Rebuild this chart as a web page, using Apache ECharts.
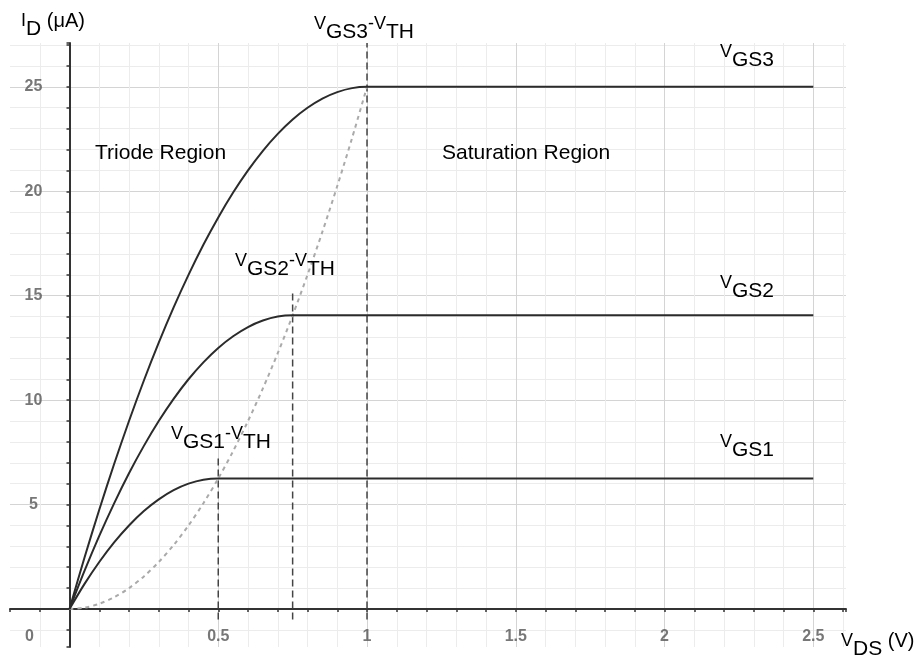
<!DOCTYPE html>
<html>
<head>
<meta charset="utf-8">
<script src="https://cdn.jsdelivr.net/npm/echarts@6/dist/echarts.min.js"></script>
<style>
  html, body { margin: 0; padding: 0; background: #fff; }
  #chart { width: 924px; height: 665px; }
</style>
</head>
<body>
<div id="chart"></div>
<script>
// ---- Data (V_DS in V, I_D in µA) ----
const vgs3X = [0, 0.05, 0.1, 0.15, 0.2, 0.25, 0.3, 0.35, 0.4, 0.45, 0.5, 0.55, 0.6, 0.65, 0.7, 0.75, 0.8, 0.85, 0.9, 0.95, 1.0, 2.5];
const vgs3Y = [0, 2.44, 4.75, 6.94, 9, 10.94, 12.75, 14.44, 16, 17.44, 18.75, 19.94, 21, 21.94, 22.75, 23.44, 24, 24.44, 24.75, 24.94, 25, 25];

const vgs2X = [0, 0.05, 0.1, 0.15, 0.2, 0.25, 0.3, 0.35, 0.4, 0.45, 0.5, 0.55, 0.6, 0.65, 0.7, 0.75, 2.5];
const vgs2Y = [0, 1.81, 3.5, 5.06, 6.5, 7.81, 9, 10.06, 11, 11.81, 12.5, 13.06, 13.5, 13.81, 14, 14.06, 14.06];

const vgs1X = [0, 0.05, 0.1, 0.15, 0.2, 0.25, 0.3, 0.35, 0.4, 0.45, 0.5, 2.5];
const vgs1Y = [0, 1.19, 2.25, 3.19, 4, 4.69, 5.25, 5.69, 6, 6.19, 6.25, 6.25];

// boundary between triode and saturation (dotted parabola)
const edgeX = [0, 0.05, 0.1, 0.15, 0.2, 0.25, 0.3, 0.35, 0.4, 0.45, 0.5, 0.55, 0.6, 0.65, 0.7, 0.75, 0.8, 0.85, 0.9, 0.95, 1.0];
const edgeY = [0, 0.06, 0.25, 0.56, 1, 1.56, 2.25, 3.06, 4, 5.06, 6.25, 7.56, 9, 10.56, 12.25, 14.06, 16, 18.06, 20.25, 22.56, 25];

// vertical dashed markers at V_GS - V_TH
const overdriveX = [0.5, 0.75, 1.0];
const overdriveTop = [7.3, 15.2, 27.1];
const overdriveBottom = [-0.5, -0.5, -0.5];

// axis extents and tick labels
const xMin = -0.2, xMax = 2.61;
const yMin = -1.82, yMax = 27.1;
const xTickValues = [0.5, 1, 1.5, 2, 2.5];
const xTickLabels = ['0.5', '1', '1.5', '2', '2.5'];
const yTickValues = [5, 10, 15, 20, 25];
const yTickLabels = ['5', '10', '15', '20', '25'];
const originLabel = '0';

const zip = (xs, ys) => xs.map((x, i) => [x, ys[i]]);

const chart = echarts.init(document.getElementById('chart'), null, { renderer: 'canvas' });

const FONT = 'Liberation Sans, Arial, Helvetica, sans-serif';
const curveStyle = { color: '#2b2b2b', width: 2 };
const dashStyle = { color: '#444', width: 1.5, type: [7, 4] };
const tickLabelStyle = { show: true, position: 'inside', color: '#555', fontSize: 16, fontWeight: 'bold',
  fontFamily: FONT, align: 'center', verticalAlign: 'middle' };

const series = [
  { name: 'VGS3', data: zip(vgs3X, vgs3Y) },
  { name: 'VGS2', data: zip(vgs2X, vgs2Y) },
  { name: 'VGS1', data: zip(vgs1X, vgs1Y) }
].map(s => ({
  type: 'line', name: s.name, data: s.data, smooth: 0.3, symbol: 'none',
  lineStyle: curveStyle, z: 5, silent: true
}));

series.push({
  type: 'line', name: 'edge', data: zip(edgeX, edgeY), smooth: 0.3, symbol: 'none',
  lineStyle: { color: '#aaaaaa', width: 2, type: [4, 4] }, z: 4, silent: true
});

overdriveX.forEach((x, i) => {
  series.push({
    type: 'line', name: 'ov' + i, data: [[x, overdriveBottom[i]], [x, overdriveTop[i]]],
    symbol: 'none', lineStyle: dashStyle, z: 3, silent: true
  });
});

// tick labels placed on the zero lines through the library's scales
series.push({
  type: 'scatter', name: 'xTicks', silent: true, z: 6, symbolSize: 1,
  itemStyle: { color: 'rgba(0,0,0,0)' },
  data: xTickValues.map((v, i) => ({ value: [v, 0], name: xTickLabels[i] })),
  label: Object.assign({}, tickLabelStyle, { offset: [0, 28], formatter: p => p.name })
});
series.push({
  type: 'scatter', name: 'yTicks', silent: true, z: 6, symbolSize: 1,
  itemStyle: { color: 'rgba(0,0,0,0)' },
  data: yTickValues.map((v, i) => ({ value: [0, v], name: yTickLabels[i] })),
  label: Object.assign({}, tickLabelStyle, { offset: [-36, 0], formatter: p => p.name })
});
series.push({
  type: 'scatter', name: 'origin', silent: true, z: 6, symbolSize: 1,
  itemStyle: { color: 'rgba(0,0,0,0)' },
  data: [{ value: [0, 0], name: originLabel }],
  label: Object.assign({}, tickLabelStyle, { offset: [-40, 28], formatter: p => p.name })
});

const rich = {
  v: { fontSize: 18, fontFamily: FONT, color: '#000', padding: [0, 0, 8, 0] },
  s: { fontSize: 21, fontFamily: FONT, color: '#000', padding: [8, 0, 0, 0] },
  p: { fontSize: 20, fontFamily: FONT, color: '#000', padding: [0, 0, 8, 0] }
};
function richText(txt, x, y) {
  return { type: 'text', x: x, y: y, z: 10, silent: true,
    style: { text: txt, rich: rich, fill: '#000', font: '21px ' + FONT } };
}
function plainText(txt, x, y) {
  return { type: 'text', x: x, y: y, z: 10, silent: true,
    style: { text: txt, fill: '#000', font: '21px ' + FONT } };
}

const axisCommon = {
  type: 'value',
  axisLine: { show: true, onZero: true, lineStyle: { color: '#333', width: 2 } },
  axisTick: { show: true, length: 3, lineStyle: { color: '#333', width: 1.5 } },
  minorTick: { show: true, splitNumber: 5, length: 3, lineStyle: { color: '#333', width: 1.5 } },
  axisLabel: { show: false },
  splitLine: { show: true, showMinLine: false, showMaxLine: false, lineStyle: { color: '#d4d4d4', width: 1 } },
  minorSplitLine: { show: true, lineStyle: { color: '#ececec', width: 1 } }
};

const option = {
  animation: false,
  backgroundColor: '#ffffff',
  grid: { left: 10, right: 78, top: 43, bottom: 18, containLabel: false, outerBoundsMode: 'none' },
  xAxis: Object.assign({}, axisCommon, { min: xMin, max: xMax }),
  yAxis: Object.assign({}, axisCommon, { min: yMin, max: yMax }),
  series: series,
  graphic: [
    richText('{v|I}{s|D}{p| (μA)}', 21, 11),
    richText('{v|V}{s|GS3}{v|-V}{s|TH}', 314, 14),
    richText('{v|V}{s|GS2}{v|-V}{s|TH}', 235, 251),
    richText('{v|V}{s|GS1}{v|-V}{s|TH}', 171, 424),
    richText('{v|V}{s|GS3}', 720, 42),
    richText('{v|V}{s|GS2}', 720, 273),
    richText('{v|V}{s|GS1}', 720, 432),
    richText('{v|V}{s|DS}{p| (V)}', 841, 631),
    plainText('Triode Region', 95, 143),
    plainText('Saturation Region', 442, 143)
  ]
};

chart.setOption(option);
</script>
</body>
</html>
